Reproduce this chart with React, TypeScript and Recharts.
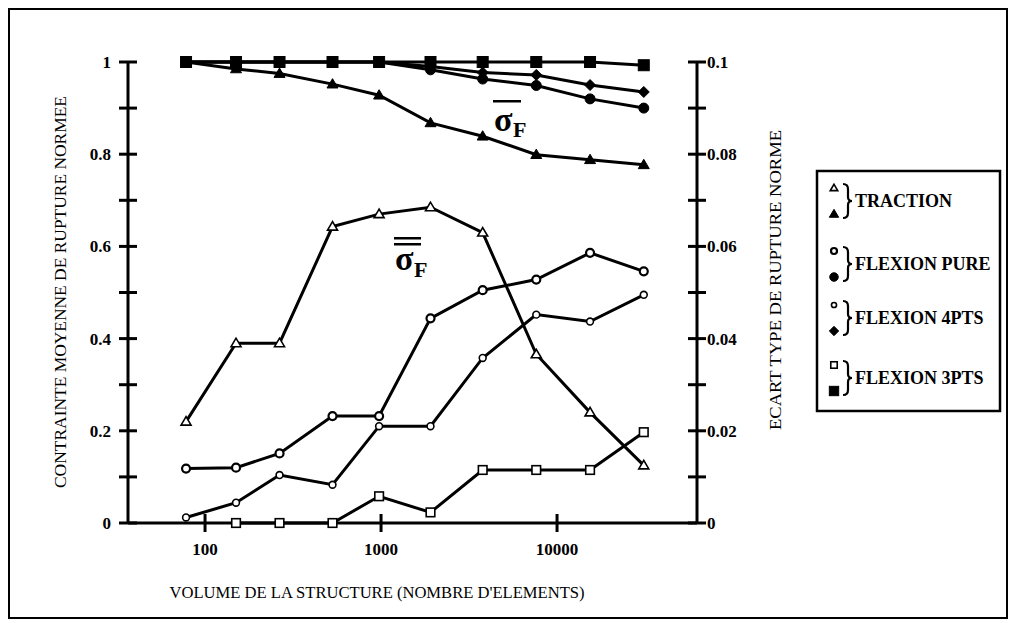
import { LineChart, Line, XAxis, YAxis } from "recharts";

// volume of the structure (number of elements)
const volumes = [78, 150, 265, 530, 975, 1910, 3780, 7620, 15400, 31100];

// mean normalised failure stress (left axis)
const tractionMean = [1.0, 0.985, 0.975, 0.952, 0.928, 0.868, 0.839, 0.799, 0.788, 0.777];
const flexionPureMean = [1.0, 1.0, 1.0, 1.0, 1.0, 0.983, 0.963, 0.949, 0.92, 0.9];
const flexion4Mean = [1.0, 1.0, 1.0, 1.0, 1.0, 0.99, 0.977, 0.972, 0.95, 0.935];
const flexion3Mean = [1.0, 1.0, 1.0, 1.0, 1.0, 1.0, 1.0, 1.0, 1.0, 0.993];

// standard deviation (right axis); no 3PTS marker visible at the first volume
const tractionStd = [0.022, 0.039, 0.039, 0.0643, 0.067, 0.0685, 0.063, 0.0366, 0.024, 0.0125];
const flexionPureStd = [0.0118, 0.012, 0.0151, 0.0232, 0.0232, 0.0444, 0.0505, 0.0528, 0.0586, 0.0546];
const flexion4Std = [0.0012, 0.0044, 0.0104, 0.0083, 0.021, 0.021, 0.0358, 0.0452, 0.0437, 0.0495];
const flexion3Std = [null, 0, 0, 0, 0.0058, 0.0023, 0.0115, 0.0115, 0.0115, 0.0197];

const xTicks = [100, 1000, 10000];
const leftTicks = [0, 0.1, 0.2, 0.3, 0.4, 0.5, 0.6, 0.7, 0.8, 0.9, 1];
const leftTickLabels = ["0", "", "0.2", "", "0.4", "", "0.6", "", "0.8", "", "1"];
const rightTicks = [0, 0.01, 0.02, 0.03, 0.04, 0.05, 0.06, 0.07, 0.08, 0.09, 0.1];
const rightTickLabels = ["0", "", "0.02", "", "0.04", "", "0.06", "", "0.08", "", "0.1"];

const legendItems = ["TRACTION", "FLEXION PURE", "FLEXION 4PTS", "FLEXION 3PTS"];

const data = volumes.map((v, i) => ({
  v,
  tracMean: tractionMean[i],
  pureMean: flexionPureMean[i],
  p4Mean: flexion4Mean[i],
  p3Mean: flexion3Mean[i],
  tracStd: tractionStd[i],
  pureStd: flexionPureStd[i],
  p4Std: flexion4Std[i],
  p3Std: flexion3Std[i],
}));

const SERIF = "'Liberation Serif', 'DejaVu Serif', serif";

type Kind = "triangle" | "circle" | "smallCircle" | "square" | "diamond";

function Marker({ kind, filled, cx, cy, s = 1 }: { kind: Kind; filled: boolean; cx: number; cy: number; s?: number }) {
  if (cx == null || cy == null) return null;
  const fill = filled ? "#000" : "#fff";
  const sw = filled ? 1 : 1.6;
  if (kind === "triangle") {
    const r = (filled ? 5.5 : 5) * s;
    return (
      <polygon
        points={`${cx},${cy - r} ${cx - r},${cy + r * 0.7} ${cx + r},${cy + r * 0.7}`}
        fill={fill}
        stroke="#000"
        strokeWidth={sw}
      />
    );
  }
  if (kind === "circle") return <circle cx={cx} cy={cy} r={(filled ? 5 : 4) * s} fill={fill} stroke="#000" strokeWidth={filled ? 1 : 2.2} />;
  if (kind === "smallCircle") return <circle cx={cx} cy={cy} r={3.4 * s} fill={fill} stroke="#000" strokeWidth={sw} />;
  if (kind === "diamond") {
    const r = 5.5 * s;
    return <polygon points={`${cx},${cy - r} ${cx + r},${cy} ${cx},${cy + r} ${cx - r},${cy}`} fill={fill} stroke="#000" strokeWidth={sw} />;
  }
  const h = (filled ? 5.5 : 4.3) * s;
  return <rect x={cx - h} y={cy - h} width={h * 2} height={h * 2} fill={fill} stroke="#000" strokeWidth={sw} />;
}

const dot = (kind: Kind, filled: boolean) => (p: any) => (
  <Marker key={`${kind}-${filled}-${p.index}`} kind={kind} filled={filled} cx={p.cx} cy={p.cy} />
);

const LeftTick = ({ x, y, payload }: any) => {
  const label = leftTickLabels[leftTicks.indexOf(payload.value)];
  return (
    <g>
      <line x1={x - 9} x2={x + 9} y1={y} y2={y} stroke="#000" strokeWidth={3} />
      {label ? (
        <text x={x - 17} y={y} dy="0.35em" textAnchor="end" fontFamily={SERIF} fontWeight="bold" fontSize={17} fill="#000">
          {label}
        </text>
      ) : null}
    </g>
  );
};

const RightTick = ({ x, y, payload }: any) => {
  const label = rightTickLabels[rightTicks.indexOf(payload.value)];
  return (
    <g>
      <line x1={x - 9} x2={x + 9} y1={y} y2={y} stroke="#000" strokeWidth={3} />
      {label ? (
        <text x={x + 10} y={y} dy="0.35em" textAnchor="start" fontFamily={SERIF} fontWeight="bold" fontSize={17} fill="#000">
          {label}
        </text>
      ) : null}
    </g>
  );
};

const BottomTick = ({ x, y, payload }: any) => (
  <g>
    <line x1={x} x2={x} y1={y - 9} y2={y + 9} stroke="#000" strokeWidth={3} />
    <text x={x} y={y + 32} textAnchor="middle" fontFamily={SERIF} fontWeight="bold" fontSize={17} fill="#000">
      {payload.value}
    </text>
  </g>
);

function Brace({ x, y0, y1 }: { x: number; y0: number; y1: number }) {
  const m = (y0 + y1) / 2;
  return (
    <path
      d={`M${x},${y0} Q${x + 5},${y0} ${x + 5},${y0 + 5} L${x + 5},${m - 4} Q${x + 5},${m} ${x + 9},${m} Q${x + 5},${m} ${x + 5},${m + 4} L${x + 5},${y1 - 5} Q${x + 5},${y1} ${x},${y1}`}
      fill="none"
      stroke="#000"
      strokeWidth={2.2}
    />
  );
}

const legendMarkers: [Kind, Kind][] = [
  ["triangle", "triangle"],
  ["circle", "circle"],
  ["smallCircle", "diamond"],
  ["square", "square"],
];
const legendRows = [201, 264, 318, 378];

export default function App() {
  return (
    <div style={{ position: "relative", width: 1015, height: 623, background: "#fff" }}>
      <style>{"body{margin:0}"}</style>
      <LineChart width={1015} height={623} data={data} margin={{ top: 62, right: 258, bottom: 60, left: 68 }}>
        <XAxis
          dataKey="v"
          type="number"
          scale="log"
          domain={[36.5, 62400]}
          ticks={xTicks}
          allowDataOverflow
          height={40}
          tickSize={0}
          tickMargin={0}
          tickLine={false}
          axisLine={{ stroke: "#000", strokeWidth: 3 }}
          tick={<BottomTick />}
        />
        <YAxis
          yAxisId="left"
          domain={[0, 1]}
          ticks={leftTicks}
          width={60}
          tickSize={0}
          tickMargin={0}
          tickLine={false}
          axisLine={{ stroke: "#000", strokeWidth: 3 }}
          tick={<LeftTick />}
          interval={0}
        />
        <YAxis
          yAxisId="right"
          orientation="right"
          domain={[0, 0.1]}
          ticks={rightTicks}
          width={60}
          tickSize={0}
          tickMargin={0}
          tickLine={false}
          axisLine={{ stroke: "#000", strokeWidth: 3 }}
          tick={<RightTick />}
          interval={0}
        />
        <Line yAxisId="right" dataKey="p3Std" stroke="#000" strokeWidth={3} dot={dot("square", false)} activeDot={false} isAnimationActive={false} />
        <Line yAxisId="right" dataKey="p4Std" stroke="#000" strokeWidth={3} dot={dot("smallCircle", false)} activeDot={false} isAnimationActive={false} />
        <Line yAxisId="right" dataKey="pureStd" stroke="#000" strokeWidth={3} dot={dot("circle", false)} activeDot={false} isAnimationActive={false} />
        <Line yAxisId="right" dataKey="tracStd" stroke="#000" strokeWidth={3} dot={dot("triangle", false)} activeDot={false} isAnimationActive={false} />
        <Line yAxisId="left" dataKey="tracMean" stroke="#000" strokeWidth={3} dot={dot("triangle", true)} activeDot={false} isAnimationActive={false} />
        <Line yAxisId="left" dataKey="pureMean" stroke="#000" strokeWidth={3} dot={dot("circle", true)} activeDot={false} isAnimationActive={false} />
        <Line yAxisId="left" dataKey="p4Mean" stroke="#000" strokeWidth={3} dot={dot("diamond", true)} activeDot={false} isAnimationActive={false} />
        <Line yAxisId="left" dataKey="p3Mean" stroke="#000" strokeWidth={3} dot={dot("square", true)} activeDot={false} isAnimationActive={false} />
      </LineChart>

      <svg width={1015} height={623} style={{ position: "absolute", left: 0, top: 0, pointerEvents: "none" }}>
        <rect x={9} y={9} width={998} height={609} fill="none" stroke="#000" strokeWidth={2} />

        {/* axis titles */}
        <text
          transform="translate(66,292) rotate(-90)"
          textAnchor="middle"
          fontFamily={SERIF}
          fontSize={16}
          textLength={392}
          lengthAdjust="spacingAndGlyphs"
          fill="#000"
        >
          CONTRAINTE MOYENNE DE RUPTURE NORMEE
        </text>
        <text
          transform="translate(781,280) rotate(-90)"
          textAnchor="middle"
          fontFamily={SERIF}
          fontSize={16}
          textLength={300}
          lengthAdjust="spacingAndGlyphs"
          fill="#000"
        >
          ECART TYPE DE RUPTURE NORME
        </text>
        <text x={377} y={598} textAnchor="middle" fontFamily={SERIF} fontSize={16} textLength={415} lengthAdjust="spacingAndGlyphs" fill="#000">
          VOLUME DE LA STRUCTURE (NOMBRE D'ELEMENTS)
        </text>

        {/* sigma annotations */}
        <rect x={493} y={100} width={28} height={2.5} fill="#000" />
        <text x={494} y={131} fontFamily={SERIF} fontWeight="bold" fontSize={34} fill="#000">σ</text>
        <text x={513} y={137} fontFamily={SERIF} fontWeight="bold" fontSize={22} fill="#000">F</text>

        <rect x={394} y={237} width={27} height={2.5} fill="#000" />
        <rect x={394} y={243} width={27} height={2.5} fill="#000" />
        <text x={395} y={270} fontFamily={SERIF} fontWeight="bold" fontSize={34} fill="#000">σ</text>
        <text x={414} y={277} fontFamily={SERIF} fontWeight="bold" fontSize={22} fill="#000">F</text>

        {/* legend */}
        <rect x={817} y={171} width={183} height={240} fill="#fff" stroke="#000" strokeWidth={2.5} />
        {legendItems.map((name, i) => {
          const cy = legendRows[i];
          return (
            <g key={name}>
              <Marker kind={legendMarkers[i][0]} filled={false} cx={834} cy={cy - 13} s={0.75} />
              <Marker kind={legendMarkers[i][1]} filled cx={834} cy={cy + 13} s={0.85} />
              <Brace x={843} y0={cy - 17} y1={cy + 17} />
              <text x={855} y={cy} dy="0.35em" fontFamily={SERIF} fontWeight="bold" fontSize={18} fill="#000">
                {name}
              </text>
            </g>
          );
        })}
      </svg>
    </div>
  );
}
